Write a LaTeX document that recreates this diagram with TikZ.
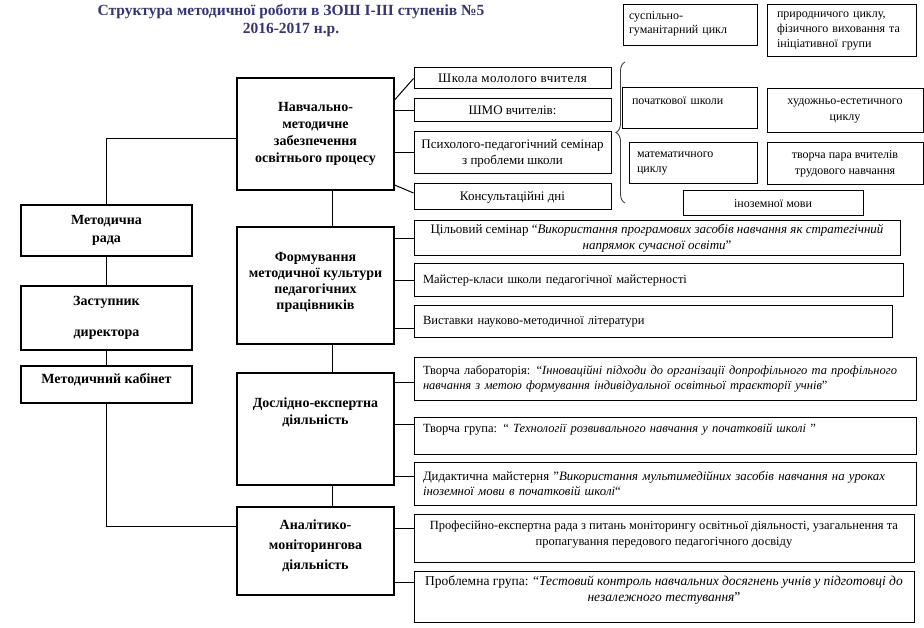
\documentclass[tikz,border=0pt]{standalone}
\usepackage{fontspec}
\setmainfont{Liberation Serif}
\usepackage{xcolor}
\usetikzlibrary{positioning, calc, decorations.pathreplacing}
\definecolor{titleblue}{RGB}{55,52,115}
\tikzset{
  heading/.style = {align=center, text=titleblue,
                    font=\fontsize{15.5pt}{18pt}\selectfont\bfseries},
  mainbox/.style = {rectangle, draw, line width=1.2pt, align=center, inner sep=2pt,
                    font=\fontsize{14pt}{17pt}\selectfont\bfseries},
  item/.style    = {rectangle, draw, line width=1pt, align=center, inner sep=2pt,
                    minimum width=197pt, font=\fontsize{13pt}{16pt}\selectfont},
  wide/.style    = {rectangle, draw, line width=1pt, inner xsep=9pt, inner ysep=2pt,
                    font=\fontsize{12.5pt}{15.5pt}\selectfont},
  cyc/.style     = {rectangle, draw, line width=1pt, inner ysep=2pt,
                    font=\fontsize{12pt}{15pt}\selectfont},
  lift/.style    = {text depth=#1},
  link/.style    = {line width=1pt},
  curly/.style   = {decorate, decoration={brace, amplitude=9pt}, line width=0.9pt, gray!50!black},
}

\begin{document}
\begin{tikzpicture}[x=1pt, y=-1pt]
    \useasboundingbox (0,0) rectangle (924,628);

    %% title
    \node[heading] (ttl) at (291,21) {Структура методичної роботи в ЗОШ І-ІІІ ступенів №5\\2016-2017 н.р.};

    %% ШМО groups (top right)
    \node[cyc, align=left, inner xsep=6pt, text width=122pt, minimum width=134pt,
          minimum height=41pt, lift=19pt, font=\fontsize{12pt}{14pt}\selectfont]
          (sus) at (690,25.5) {суспільно-\\гуманітарний цикл};
    \node[cyc, align=left, inner xsep=10pt, text width=129pt, minimum width=149pt,
          minimum height=52pt] (pryr) at (841.5,31) {природничого циклу,\\фізичного виховання та\\ініціативної групи};
    \node[cyc, align=left, inner xsep=10pt, text width=115pt, minimum width=135pt,
          minimum height=41pt, lift=16pt] (poch) at (689.5,108.5) {початкової школи};
    \node[cyc, align=center, minimum width=156pt, minimum height=44pt, font=\fontsize{12pt}{16pt}\selectfont]
          (hud) at (845,111) {художньо-естетичного\\циклу};
    \node[cyc, align=left, inner xsep=8pt, text width=112pt, minimum width=128pt,
          minimum height=41pt] (mat) at (693,163.5) {математичного\\циклу};
    \node[cyc, align=center, minimum width=156pt, minimum height=42pt, font=\fontsize{12pt}{16pt}\selectfont]
          (tvp) at (845,164) {творча пара вчителів\\трудового навчання};
    \node[cyc, align=center, minimum width=180pt, minimum height=25pt] (inoz) at (773,203.5) {іноземної мови};

    %% brace over the ШМО list
    \coordinate (brbot) at (625,203);
    \coordinate (brtop) at (625,62);
    \draw[curly] (brbot) -- (brtop);

    %% left column
    \node[mainbox, minimum width=171pt, minimum height=51pt, font=\fontsize{14pt}{18pt}\selectfont\bfseries]
         (rada) at (106.5,230.5) {Методична\\рада};
    \node[mainbox, minimum width=171pt, minimum height=64pt] (zast) at (106.5,318) {Заступник\\[14pt]директора};
    \node[mainbox, minimum width=171pt, minimum height=37pt, lift=12pt] (kab) at (106.5,384.5) {Методичний кабінет};

    %% main directions
    \node[mainbox, minimum width=157pt, minimum height=112pt] (navch) at (315.5,134)
         {Навчально-\\методичне\\забезпечення\\освітнього процесу};
    \node[mainbox, minimum width=157pt, minimum height=117pt, lift=10pt, font=\fontsize{14pt}{16pt}\selectfont\bfseries]
         (form) at (315.5,285.5) {Формування\\методичної культури\\педагогічних\\працівників};
    \node[mainbox, minimum width=157pt, minimum height=112pt, lift=36pt] (dosl) at (315.5,429)
         {Дослідно-експертна\\діяльність};
    \node[mainbox, minimum width=157pt, minimum height=88pt, lift=13pt, font=\fontsize{14pt}{20pt}\selectfont\bfseries]
         (anal) at (315.5,551) {Аналітико-\\моніторингова\\діяльність};

    %% forms of work
    \node[item, minimum height=21pt] (shk)  at (512.5,78.5) {\addfontfeature{LetterSpace=4}Школа мололого вчителя};
    \node[item, minimum height=23pt] (shmo) at (512.5,110.5) {ШМО вчителів:};
    \node[item, minimum height=42pt] (psy)  at (512.5,153) {Психолого-педагогічний семінар\\з проблеми школи};
    \node[item, minimum height=26pt] (kons) at (512.5,197) {Консультаційні дні};

    \node[wide, align=center, minimum width=486pt, minimum height=35pt, font=\fontsize{13pt}{16pt}\selectfont]
         (tsil) at (657,238.5)
         {Цільовий семінар “\textit{Використання програмових засобів навчання як стратегічний}\\\textit{напрямок сучасної освіти}”};
    \node[wide, align=left, text width=471pt, minimum width=489pt, minimum height=33pt] (maist) at (658.5,280.5)
         {Майстер-класи школи педагогічної майстерності};
    \node[wide, align=left, text width=460pt, minimum width=478pt, minimum height=32pt] (vyst) at (653,322)
         {Виставки науково-методичної літератури};

    \node[wide, align=left, text width=484pt, minimum width=502pt, minimum height=42pt] (lab) at (665,379)
         {Творча лабораторія: “\textit{Інноваційні підходи до організації допрофільного та профільного}\\\textit{навчання з метою формування індивідуальної освітньої траєкторії учнів}”};
    \node[wide, align=left, text width=484pt, minimum width=502pt, minimum height=37pt, lift=14pt] (grupa) at (665,435.5)
         {Творча група: “ \textit{Технології розвивального навчання у початковій школі} ”};
    \node[wide, align=left, text width=484pt, minimum width=502pt, minimum height=43pt,
          font=\fontsize{12.8pt}{15.5pt}\selectfont] (dyd) at (665,483.5)
         {Дидактична майстерня "\textit{Використання мультимедійних засобів навчання на уроках}\\\textit{іноземної мови в початковій школі}“};

    \node[wide, align=center, inner xsep=4pt, minimum width=500pt, minimum height=48pt, lift=10pt] (prof) at (664,538)
         {Професійно-експертна рада з питань моніторингу освітньої діяльності, узагальнення та\\пропагування передового педагогічного досвіду};
    \node[wide, align=center, inner xsep=4pt, minimum width=500pt, minimum height=51pt, lift=16pt,
          font=\fontsize{13.5pt}{16pt}\selectfont] (probl) at (664,596.5)
         {Проблемна група: “\textit{Тестовий контроль навчальних досягнень учнів у підготовці до}\\\textit{незалежного тестування}”};

    %% left column links
    \draw[link] ([yshift=-5pt]navch.west) -| (rada.north);
    \draw[link] (rada) -- (zast);
    \draw[link] (zast) -- (kab);
    \draw[link] (kab.south) |- ([yshift=25pt]anal.west);

    %% main spine
    \draw[link] ([xshift=17pt]navch.south) -- ([xshift=17pt]form.north);
    \draw[link] ([xshift=17pt]form.south)  -- ([xshift=17pt]dosl.north);
    \draw[link] ([xshift=17pt]dosl.south)  -- ([xshift=17pt]anal.north);

    %% branches
    \draw[link] ([yshift=34pt]navch.east) -- (shk.west);
    \draw[link] (navch.east |- shmo.west) -- (shmo.west);
    \draw[link] (navch.east |- psy.west)  -- (psy.west);
    \draw[link] ([yshift=-51pt]navch.east) -- ([yshift=4pt]kons.west);

    \draw[link] (form.east |- tsil.west)  -- (tsil.west);
    \draw[link] (form.east |- maist.west) -- (maist.west);
    \draw[link, transform canvas={yshift=-7pt}] (form.east |- vyst.west) -- (vyst.west);

    \draw[link, transform canvas={yshift=-3pt}] (dosl.east |- lab.west) -- (lab.west);
    \draw[link, transform canvas={yshift=11pt}] (dosl.east |- grupa.west) -- (grupa.west);
    \draw[link, transform canvas={yshift=7pt}]  (dosl.east |- dyd.west)   -- (dyd.west);

    \draw[link, transform canvas={yshift=10pt}] (anal.east |- prof.west)  -- (prof.west);
    \draw[link, transform canvas={yshift=14pt}] (anal.east |- probl.west) -- (probl.west);

\end{tikzpicture}
\end{document}
